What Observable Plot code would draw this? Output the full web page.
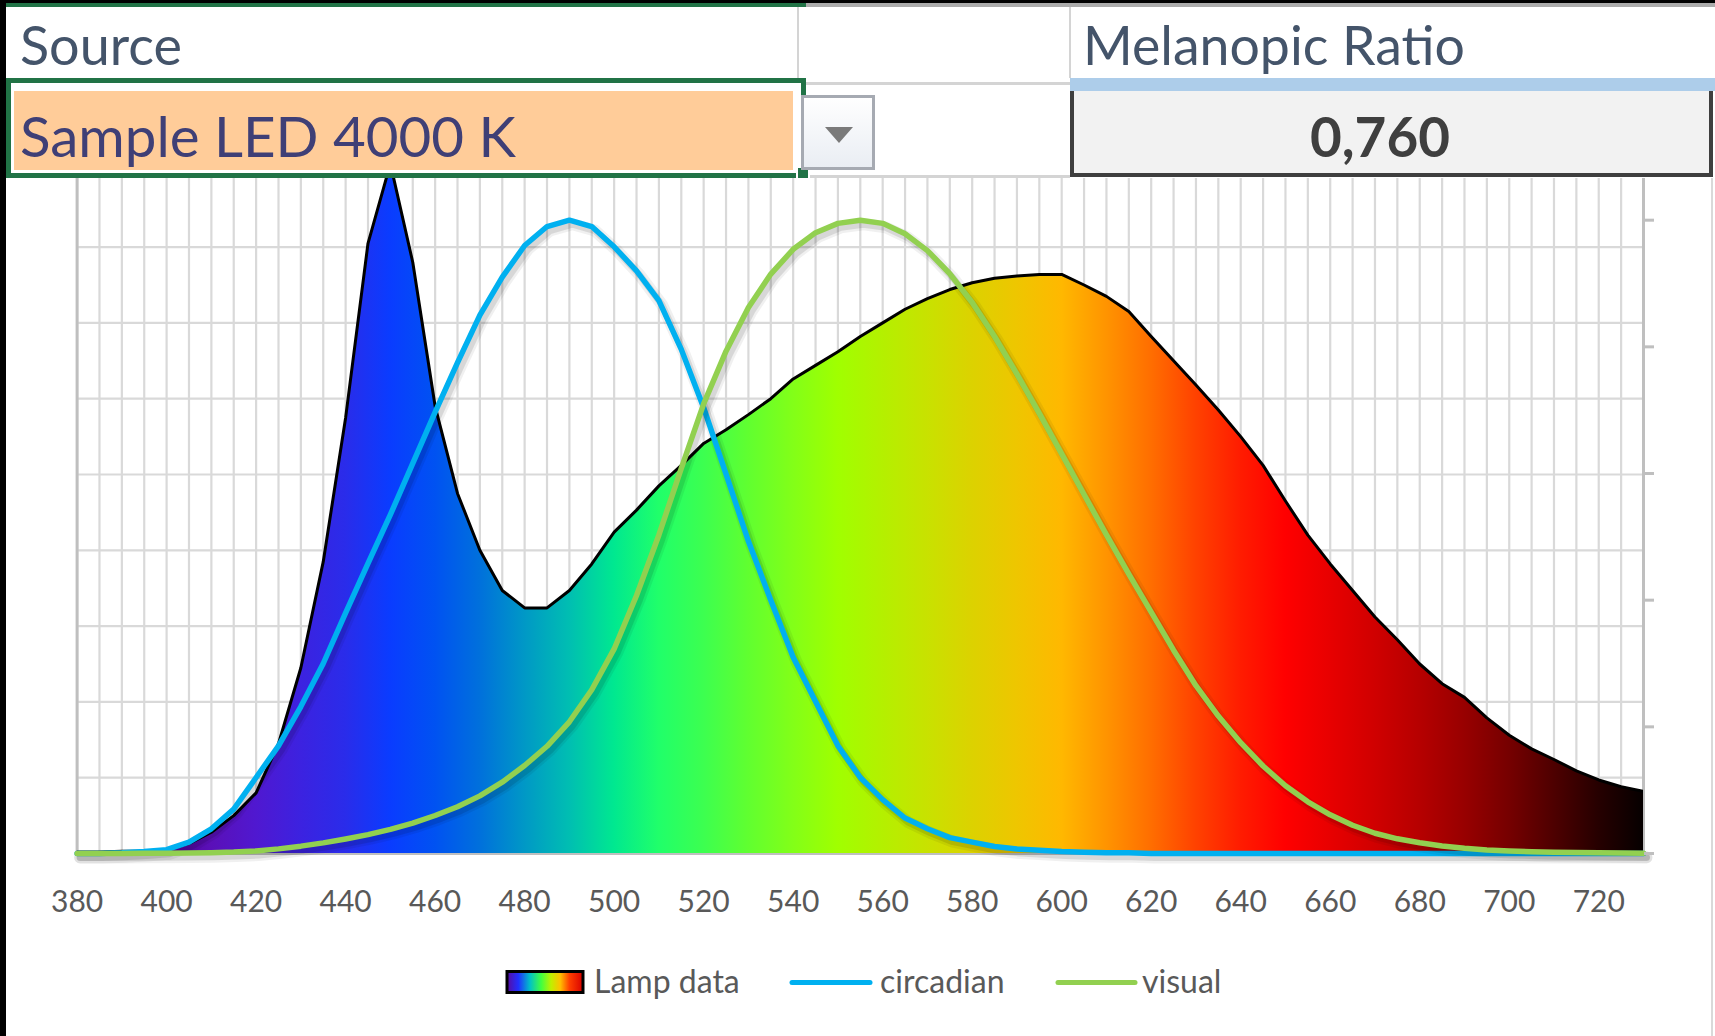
<!DOCTYPE html>
<html>
<head>
<meta charset="utf-8">
<script src="https://cdn.jsdelivr.net/npm/d3@7"></script>
<script src="https://cdn.jsdelivr.net/npm/@observablehq/plot@0.6"></script>
<style>
  html, body { margin:0; padding:0; background:#fff; }
  body { width:1715px; height:1036px; position:relative; overflow:hidden; font-family: Lato, "Open Sans", sans-serif; }
  #chart { position:absolute; left:0; top:0; z-index:1; }
  #header { position:absolute; left:0; top:0; z-index:2; }
  #legend { position:absolute; left:0; top:940px; z-index:2; }
  #frame { position:absolute; left:0; top:0; z-index:3; pointer-events:none; }
</style>
</head>
<body>
<div id="chart"></div>

<svg id="header" width="1715" height="180" xmlns="http://www.w3.org/2000/svg">
  <defs>
    <linearGradient id="btnGrad" x1="0" y1="0" x2="0" y2="1">
      <stop offset="0" stop-color="#ffffff"/>
      <stop offset="1" stop-color="#e9edf3"/>
    </linearGradient>
  </defs>
  <rect x="0" y="0" width="1715" height="178" fill="#fff"/>
  <rect x="0" y="0" width="1715" height="3" fill="#000"/>
  <rect x="6" y="3" width="800" height="4" fill="#217346"/>
  <rect x="806" y="3" width="909" height="4" fill="#ababab"/>
  <rect x="797" y="7" width="2" height="75" fill="#d4d4d4"/>
  <rect x="1069" y="7" width="2" height="71" fill="#d4d4d4"/>
  <rect x="806" y="82" width="264" height="3" fill="#d4d4d4"/>
  <rect x="806" y="175" width="264" height="3" fill="#d4d4d4"/>
  <rect x="8.5" y="80.5" width="795" height="95" fill="#fff" stroke="#217346" stroke-width="5"/>
  <rect x="14" y="91" width="779" height="79" fill="#ffcc99"/>
  <rect x="797" y="167" width="12" height="12" fill="#217346" stroke="#fff" stroke-width="2"/>
  <rect x="802.5" y="96.5" width="71" height="72" fill="url(#btnGrad)" stroke="#a6aab2" stroke-width="3"/>
  <polygon points="825,127 853,127 839,143" fill="#7a7a7a"/>
  <rect x="1070" y="78" width="645" height="13" fill="#adcdea"/>
  <rect x="1070" y="91" width="643" height="86" fill="#f2f2f2"/>
  <rect x="1070" y="91" width="4" height="86" fill="#3f3f3f"/>
  <rect x="1709" y="91" width="4" height="86" fill="#3f3f3f"/>
  <rect x="1070" y="173" width="643" height="4" fill="#3f3f3f"/>
  <text id="tSource" x="20" y="65" font-size="50" fill="#44546a" font-family="Lato, sans-serif">Source</text>
  <text id="tSample" x="20" y="157" font-size="50" fill="#3f3f76" font-family="Lato, sans-serif">Sample LED 4000 K</text>
  <text id="tMel" x="1083" y="65" font-size="50" fill="#44546a" font-family="Lato, sans-serif">Melanopic Ratio</text>
  <text id="tVal" x="1380" y="157" font-size="50" fill="#3f3f3f" font-weight="bold" text-anchor="middle" font-family="Lato, sans-serif">0,760</text>
</svg>

<svg id="legend" width="1715" height="96" xmlns="http://www.w3.org/2000/svg">
  <defs>
    <linearGradient id="legendGrad" x1="0" y1="0" x2="1" y2="0">
      <stop offset="0" stop-color="#5a0aa0"/>
      <stop offset="0.15" stop-color="#2030ff"/>
      <stop offset="0.3" stop-color="#00c0c8"/>
      <stop offset="0.45" stop-color="#40ff40"/>
      <stop offset="0.58" stop-color="#c0f000"/>
      <stop offset="0.7" stop-color="#ffc000"/>
      <stop offset="0.82" stop-color="#ff4000"/>
      <stop offset="1" stop-color="#d80000"/>
    </linearGradient>
  </defs>
  <rect x="507" y="31.5" width="76" height="21" fill="url(#legendGrad)" stroke="#000" stroke-width="3"/>
  <text x="594" y="53" font-size="32" fill="#595959" font-family="Lato, sans-serif">Lamp data</text>
  <line x1="792" x2="870" y1="42.5" y2="42.5" stroke="#00b0f0" stroke-width="5" stroke-linecap="round"/>
  <text x="880" y="53" font-size="32" fill="#595959" font-family="Lato, sans-serif">circadian</text>
  <line x1="1058" x2="1135" y1="42.5" y2="42.5" stroke="#92d050" stroke-width="5" stroke-linecap="round"/>
  <text x="1142" y="53" font-size="32" fill="#595959" font-family="Lato, sans-serif">visual</text>
</svg>

<svg id="frame" width="1715" height="1036" xmlns="http://www.w3.org/2000/svg">
  <rect x="0" y="0" width="6" height="1036" fill="#000"/>
  <rect x="1711" y="178" width="2" height="858" fill="#d9d9d9"/>
</svg>

<script>
// ---- data ----
const wavelengths = [380,385,390,395,400,405,410,415,420,425,430,435,440,445,450,455,460,465,470,475,
  480,485,490,495,500,505,510,515,520,525,530,535,540,545,550,555,560,565,570,575,
  580,585,590,595,600,605,610,615,620,625,630,635,640,645,650,655,660,665,670,675,
  680,685,690,695,700,705,710,715,720,725,730];

const lampData = [0.02,0.02,0.03,0.03,0.05, 0.13,0.28,0.5,0.8,1.45, 2.45,3.85,5.75,8.05,9.1,
  7.8,5.9,4.75,4.0,3.47, 3.24,3.24,3.47,3.82,4.24, 4.53,4.85,5.12,5.41,5.59,
  5.79,6.0,6.26,6.44,6.62, 6.82,7.0,7.18,7.32,7.44, 7.53,7.59,7.62,7.64,7.64,
  7.5,7.35,7.15,6.82,6.5, 6.18,5.85,5.5,5.12,4.65, 4.2,3.82,3.47,3.12,2.82,
  2.5,2.24,2.06,1.79,1.56, 1.38,1.24,1.09,0.97,0.88,0.82];

const circadian = [0,0,0.001,0.003,0.006, 0.018,0.039,0.07,0.12,0.17, 0.232,0.30,0.38,0.458,0.535,
  0.616,0.697,0.775,0.85,0.91, 0.96,0.99,1.0,0.99,0.958, 0.92,0.873,0.796,0.704,0.599,
  0.493,0.40,0.31,0.24,0.17, 0.12,0.085,0.056,0.039,0.025, 0.018,0.011,0.007,0.005,0.003,
  0.002,0.001,0.001,0,0, 0,0,0,0,0, 0,0,0,0,0, 0,0,0,0,0, 0,0,0,0,0,0];

const visual = [0.00004,0.00006,0.00012,0.00022,0.0004, 0.00064,0.0012,0.0022,0.004,0.0073,
  0.0116,0.0168,0.023,0.0298,0.038, 0.048,0.06,0.0739,0.091,0.1126,
  0.139,0.1693,0.208,0.2586,0.323, 0.4073,0.503,0.6082,0.71,0.7932,
  0.862,0.9149,0.954,0.9803,0.995, 1.0,0.995,0.9786,0.952,0.9154,
  0.87,0.8163,0.757,0.6949,0.631, 0.5668,0.503,0.4412,0.381,0.321,
  0.265,0.217,0.175,0.1382,0.107, 0.0816,0.061,0.0446,0.032,0.0232,
  0.017,0.0119,0.0082,0.0057,0.0041, 0.0029,0.0021,0.0015,0.001,0.0007,0.0005];

const xTicks = [380,400,420,440,460,480,500,520,540,560,580,600,620,640,660,680,700,720];
const yGrid = [1,2,3,4,5,6,7,8,9];
const secondaryTicks = [0,0.2,0.4,0.6,0.8,1.0];
const spectrumStops = [
  [380,"#3a0060"],[400,"#52009a"],[410,"#5a10b8"],[420,"#5018d0"],[430,"#3c22e0"],[440,"#2a2cea"],
  [450,"#0a3cff"],[460,"#0052f2"],[470,"#0070dc"],[480,"#0098c6"],[490,"#00beb2"],[500,"#00e890"],
  [510,"#20ff6a"],[520,"#3cff50"],[530,"#60ff30"],[540,"#82ff18"],[550,"#a0ff00"],[560,"#b4f000"],
  [570,"#c8e200"],[580,"#dcd200"],[590,"#eec600"],[600,"#ffb800"],[610,"#ff9400"],[620,"#ff6e00"],
  [630,"#ff4200"],[640,"#ff1c00"],[650,"#ff0000"],[660,"#e80000"],[670,"#d00000"],[680,"#b60000"],
  [690,"#980000"],[700,"#760000"],[710,"#4e0000"],[720,"#260000"],[730,"#060000"]];

// secondary axis (0..1) expressed in primary units
const k = 8.355;

const rows = wavelengths.map((w, i) => ({w, lamp: lampData[i], circ: circadian[i] * k, vis: visual[i] * k}));

const shadow = (y) => [
  Plot.lineY(rows, {x: "w", y, stroke: "#000", strokeOpacity: 0.06, strokeWidth: 12, dx: 3, dy: 4, strokeLinejoin: "round"}),
  Plot.lineY(rows, {x: "w", y, stroke: "#000", strokeOpacity: 0.10, strokeWidth: 7, dx: 3, dy: 4, strokeLinejoin: "round"})
];

const chart = Plot.plot({
  width: 1715,
  height: 940,
  marginLeft: 76.6,
  marginRight: 72,
  marginTop: 170.8,
  marginBottom: 87,
  x: {domain: [380, 730], label: null},
  y: {domain: [0, 9], label: null},
  style: {fontFamily: "Lato, sans-serif", color: "#595959", background: "transparent", overflow: "visible"},
  marks: [
    Plot.ruleX(wavelengths, {stroke: "#d9d9d9", strokeWidth: 2.2}),
    Plot.ruleY(yGrid, {stroke: "#d9d9d9", strokeWidth: 2.2}),
    Plot.ruleX([380, 730], {stroke: "#bfbfbf", strokeWidth: 3}),
    Plot.ruleY([0], {stroke: "#bfbfbf", strokeWidth: 3}),
    Plot.areaY(rows, {x: "w", y: "lamp", fill: "url(#spectrum)", clip: true}),
    Plot.lineY(rows, {x: "w", y: "lamp", stroke: "#000", strokeWidth: 3, clip: true}),
    ...shadow("circ"),
    Plot.lineY(rows, {x: "w", y: "circ", stroke: "#00b0f0", strokeWidth: 5.5, strokeLinejoin: "round"}),
    ...shadow("vis"),
    Plot.lineY(rows, {x: "w", y: "vis", stroke: "#92d050", strokeWidth: 5.5, strokeLinejoin: "round"}),
    Plot.axisX({ticks: xTicks, tickSize: 0, tickPadding: 37, fontSize: 30, label: null}),
    Plot.axisY({anchor: "right", ticks: secondaryTicks.map(v => v * k), tickSize: 10, tickFormat: () => "",
                stroke: "#bfbfbf", strokeWidth: 3, label: null})
  ]
});

const xs = chart.scale("x");
const svg = d3.select(chart);
const defs = svg.insert("defs", ":first-child");
const grad = defs.append("linearGradient").attr("id", "spectrum")
  .attr("gradientUnits", "userSpaceOnUse")
  .attr("x1", xs.apply(380)).attr("x2", xs.apply(730)).attr("y1", 0).attr("y2", 0);
spectrumStops.forEach(([w, c]) => grad.append("stop").attr("offset", (w - 380) / 350).attr("stop-color", c));

document.getElementById("chart").appendChild(chart);

function fit(id, target) {
  const el = document.getElementById(id);
  const fs = parseFloat(el.getAttribute("font-size"));
  const w = el.getComputedTextLength();
  el.setAttribute("font-size", (fs * target / w).toFixed(2));
}
fit("tSource", 162);
fit("tSample", 496);
fit("tMel", 382);
fit("tVal", 140);
</script>
</body>
</html>
